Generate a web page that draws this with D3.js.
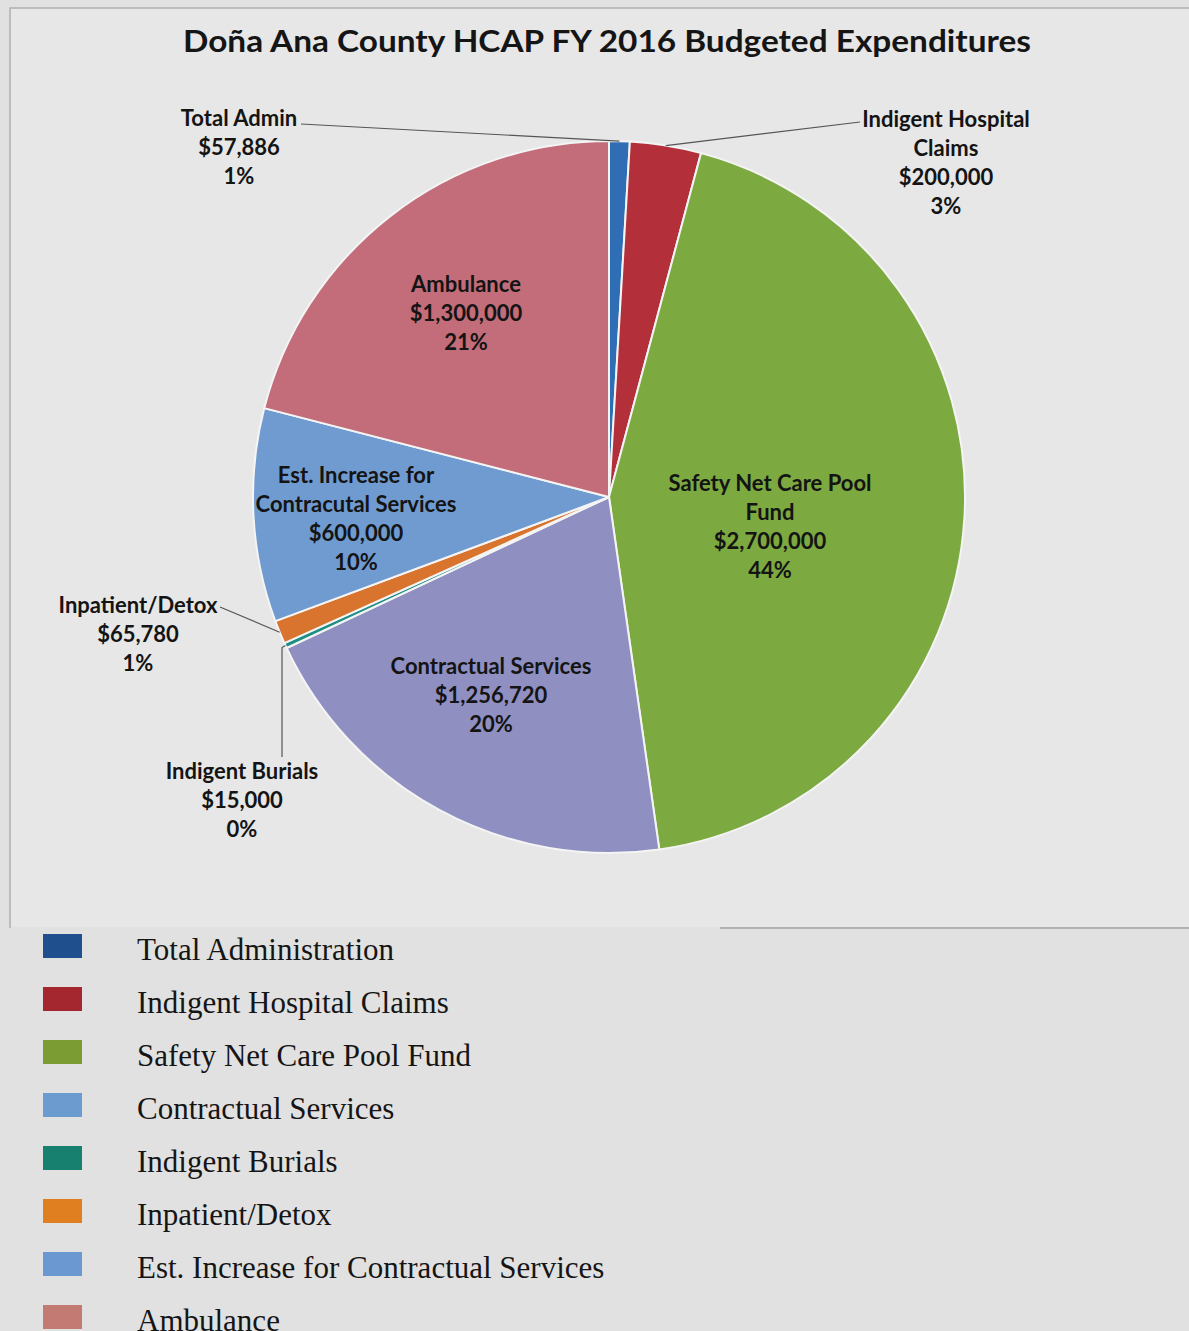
<!DOCTYPE html>
<html><head><meta charset="utf-8">
<script src="https://cdn.jsdelivr.net/npm/d3@7"></script>
<style>
html,body{margin:0;padding:0;background:#e1e1e1;}
svg{display:block;}
</style></head>
<body>
<svg id="chart" width="1189" height="1331"></svg>
<script>
// ---- data ----
const categories = ["Total Admin","Indigent Hospital Claims","Safety Net Care Pool Fund","Contractual Services","Indigent Burials","Inpatient/Detox","Est. Increase for Contracutal Services","Ambulance"];
const values = [57886, 200000, 2700000, 1256720, 15000, 65780, 600000, 1300000];
const legendLabels = ["Total Administration","Indigent Hospital Claims","Safety Net Care Pool Fund","Contractual Services","Indigent Burials","Inpatient/Detox","Est. Increase for Contractual Services","Ambulance"];
const title = "Doña Ana County HCAP FY 2016 Budgeted Expenditures";

// ---- styles / layout ----
const sliceColors = ["#2f6db5","#b3303a","#7ca940","#8f8fc2","#1f8f86","#d9742f","#6f9bd0","#c26d79"];
const legendColors = ["#1f4f8d","#a4262e","#7b9c33","#6c9bd0","#17806f","#e07f20","#6b98d0","#c27a72"];
const labelLayout = [
  {lines:["Total Admin"], x:239, y:126, leader:{from:[301,124]}},
  {lines:["Indigent Hospital","Claims"], x:946, y:127, leader:{from:[860,122]}},
  {lines:["Safety Net Care Pool","Fund"], x:770, y:491},
  {lines:["Contractual Services"], x:491, y:674},
  {lines:["Indigent Burials"], x:242, y:779, leader:{from:[282,757], vertical:true}},
  {lines:["Inpatient/Detox"], x:138, y:613, leader:{from:[220,607]}},
  {lines:["Est. Increase for","Contracutal Services"], x:356, y:483},
  {lines:["Ambulance"], x:466, y:292}
];

const svg = d3.select("#chart");
const cx = 609, cy = 497, R = 356;

// chart frame
svg.append("path").attr("d","M10,928 L10,8 L1189,8").attr("fill","none").attr("stroke","#b0b0b0").attr("stroke-width",1.5);
svg.append("rect").attr("x",11).attr("y",9).attr("width",1178).attr("height",918).attr("fill","#e7e7e7");
svg.append("line").attr("x1",720).attr("x2",1189).attr("y1",928).attr("y2",928).attr("stroke","#a0a0a0").attr("stroke-width",1.5);

svg.append("text").attr("x",607).attr("y",52).attr("text-anchor","middle")
  .attr("font-family","Lato, 'Open Sans', sans-serif").attr("font-weight",700).attr("font-size",31)
  .attr("fill","#151515").attr("textLength",848).attr("lengthAdjust","spacingAndGlyphs").text(title);

const total = d3.sum(values);
const pie = d3.pie().sort(null).value(d=>d).startAngle(0).endAngle(2*Math.PI);
const arcs = pie(values);
const arc = d3.arc().innerRadius(0).outerRadius(R);

const g = svg.append("g").attr("transform",`translate(${cx},${cy})`);
g.selectAll("path").data(arcs).join("path")
  .attr("d",arc).attr("fill",(d,i)=>sliceColors[i])
  .attr("stroke","#f4f4f4").attr("stroke-width",2).attr("stroke-linejoin","round");

const money = d3.format("$,");
const pct = v => Math.round(v/total*100) + "%";

// leader lines
arcs.forEach((a,i)=>{
  const L = labelLayout[i];
  if(!L.leader) return;
  const mid = (a.startAngle+a.endAngle)/2;
  const px = cx + R*Math.sin(mid), py = cy - R*Math.cos(mid);
  if(L.leader.vertical){
    svg.append("polyline").attr("points",`${L.leader.from[0]},${L.leader.from[1]} ${L.leader.from[0]},${py+2} ${px},${py}`)
      .attr("fill","none").attr("stroke","#555").attr("stroke-width",1.2);
  } else {
    svg.append("line").attr("x1",L.leader.from[0]).attr("y1",L.leader.from[1]).attr("x2",px).attr("y2",py)
      .attr("stroke","#555").attr("stroke-width",1.2);
  }
});

// data labels
arcs.forEach((a,i)=>{
  const L = labelLayout[i];
  const lines = L.lines.concat([money(values[i]), pct(values[i])]);
  const t = svg.append("text").attr("text-anchor","middle")
    .attr("font-family","Lato, 'Open Sans', sans-serif").attr("font-weight",700).attr("font-size",22)
    .attr("fill","#141414");
  lines.forEach((s,k)=>{
    t.append("tspan").attr("x",L.x).attr("y",L.y + k*29).text(s);
  });
});

// legend
const lg = svg.append("g");
legendLabels.forEach((s,i)=>{
  const y = 946 + i*53;
  lg.append("rect").attr("x",43).attr("y",y-12).attr("width",39).attr("height",24).attr("fill",legendColors[i]);
  lg.append("text").attr("x",137).attr("y",y+14).attr("font-family","'Liberation Serif', 'Times New Roman', serif")
    .attr("font-size",31).attr("fill","#151515").text(s);
});
</script>
</body></html>
